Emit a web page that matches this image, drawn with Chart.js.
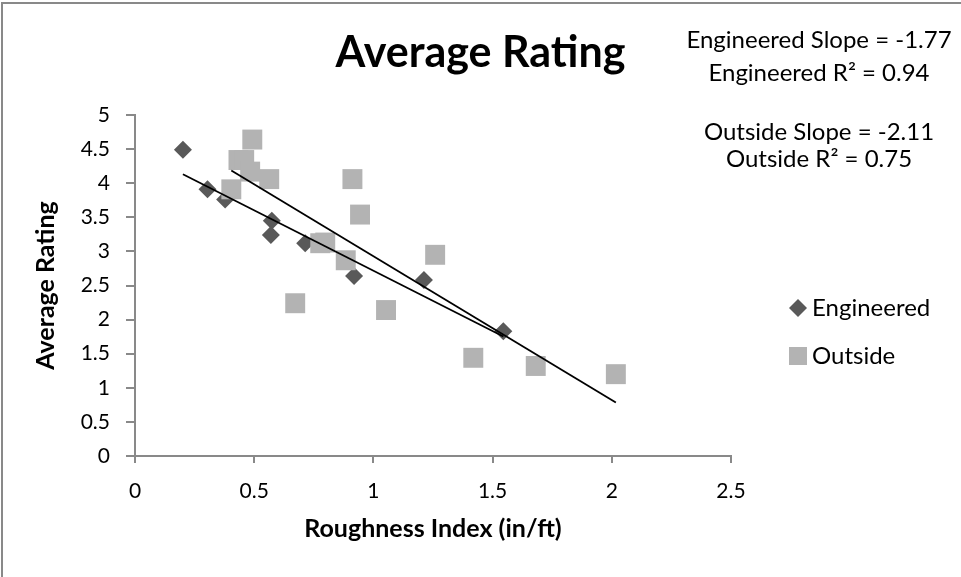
<!DOCTYPE html>
<html>
<head>
<meta charset="utf-8">
<script src="https://cdn.jsdelivr.net/npm/chart.js@4.4.1/dist/chart.umd.min.js"></script>
<style>
  html, body { margin: 0; padding: 0; background: #fff; }
  #wrap { width: 961px; height: 577px; position: relative; }
</style>
</head>
<body>
<div id="wrap"><canvas id="chart" width="961" height="577"></canvas></div>
<script>
// Data
const seriesNames = ['Engineered', 'Outside'];
const engX = [0.201, 0.304, 0.378, 0.574, 0.570, 0.714, 0.919, 1.212, 1.545];
const engY = [4.49, 3.91, 3.76, 3.45, 3.24, 3.12, 2.64, 2.58, 1.83];
const outX = [0.492, 0.434, 0.458, 0.483, 0.563, 0.404, 0.912, 0.944, 0.777, 0.798, 0.884, 1.259, 0.672, 1.053, 1.419, 1.681, 2.017];
const outY = [4.64, 4.34, 4.34, 4.17, 4.06, 3.91, 4.06, 3.54, 3.12, 3.13, 2.87, 2.95, 2.24, 2.14, 1.44, 1.32, 1.20];

// Linear trendlines (slope from the chart's notes)
const trendSlope = [-1.77, -2.11];
const trendIntercept = [4.486, 5.04];
const chartTitle = 'Average Rating';
const notes = [
    ['Engineered Slope = -1.77', 'Engineered R\u00B2 = 0.94'],
    ['Outside Slope = -2.11', 'Outside R\u00B2 = 0.75']
];

const xTicks = [0, 0.5, 1, 1.5, 2, 2.5];
const yTicks = [0, 0.5, 1, 1.5, 2, 2.5, 3, 3.5, 4, 4.5, 5];

const FONT = 'Lato, "Open Sans", sans-serif';
const axisGray = '#898989';

function toPoints(xs, ys) {
    return xs.map((x, i) => ({ x: x, y: ys[i] }));
}

function trendPoints(xs, k) {
    const lo = Math.min(...xs), hi = Math.max(...xs);
    return [lo, hi].map(x => ({ x: x, y: trendIntercept[k] + trendSlope[k] * x }));
}

// title, notes, legend and frame drawn on top
const extras = {
    id: 'extras',
    afterDraw(chart) {
        const ctx = chart.ctx;
        ctx.save();

        // frame (top and left edge only are visible)
        ctx.fillStyle = axisGray;
        ctx.fillRect(1, 2, 960, 2);
        ctx.fillRect(1, 2, 2, 575);

        // title, centred on the whole picture
        ctx.fillStyle = '#000';
        ctx.font = 'bold 43px ' + FONT;
        ctx.textAlign = 'center';
        ctx.textBaseline = 'alphabetic';
        ctx.fillText(chartTitle, 480.5, 67);

        // slope / R2 notes
        ctx.font = '24px ' + FONT;
        const baselines = [[48, 81], [140, 167]];
        notes.forEach((pair, i) => {
            pair.forEach((txt, j) => ctx.fillText(txt, 819, baselines[i][j]));
        });

        // legend
        const items = [
            { ds: chart.data.datasets[0], y: 308 },
            { ds: chart.data.datasets[1], y: 356 }
        ];
        ctx.textAlign = 'left';
        ctx.textBaseline = 'middle';
        items.forEach(it => {
            ctx.fillStyle = it.ds.backgroundColor;
            ctx.beginPath();
            if (it.ds.pointStyle === 'rectRot') {
                const r = 9;
                ctx.moveTo(798 - r, it.y); ctx.lineTo(798, it.y - r);
                ctx.lineTo(798 + r, it.y); ctx.lineTo(798, it.y + r);
                ctx.closePath();
            } else {
                ctx.rect(798 - 9, it.y - 9, 18, 18);
            }
            ctx.fill();
            ctx.fillStyle = '#000';
            ctx.fillText(it.ds.label, 812, it.y);
        });
        ctx.restore();
    }
};

new Chart(document.getElementById('chart'), {
    type: 'scatter',
    data: {
        datasets: [
            {
                label: seriesNames[0],
                data: toPoints(engX, engY),
                pointStyle: 'rectRot',
                pointRadius: 9,
                pointHoverRadius: 9,
                backgroundColor: '#595959',
                borderColor: '#595959',
                borderWidth: 0,
                order: 2
            },
            {
                label: seriesNames[1],
                data: toPoints(outX, outY),
                pointStyle: 'rect',
                pointRadius: 14.1,
                pointHoverRadius: 14.1,
                backgroundColor: '#b3b3b3',
                borderColor: '#b3b3b3',
                borderWidth: 0,
                order: 1
            },
            {
                label: 'Linear (' + seriesNames[0] + ')',
                type: 'line',
                data: trendPoints(engX, 0),
                borderColor: '#000',
                borderWidth: 1.8,
                pointRadius: 0,
                fill: false,
                order: 0
            },
            {
                label: 'Linear (' + seriesNames[1] + ')',
                type: 'line',
                data: trendPoints(outX, 1),
                borderColor: '#000',
                borderWidth: 1.8,
                pointRadius: 0,
                fill: false,
                order: 0
            }
        ]
    },
    options: {
        responsive: false,
        animation: false,
        devicePixelRatio: 1,
        layout: { padding: { left: 0, right: 230, top: 115, bottom: 0 } },
        plugins: {
            legend: { display: false },
            tooltip: { enabled: false },
            title: { display: false }
        },
        scales: {
            x: {
                type: 'linear',
                min: 0,
                max: 2.5,
                afterBuildTicks: s => { s.ticks = xTicks.map(v => ({ value: v })); },
                afterFit: s => { s.height = 121; },
                ticks: { color: '#000', font: { family: FONT, size: 21 }, padding: 16, callback: v => String(v) },
                grid: { drawOnChartArea: false, drawTicks: true, tickLength: 7, color: axisGray, lineWidth: 2 },
                border: { color: axisGray, width: 2 },
                title: {
                    display: true,
                    text: 'Roughness Index (in/ft)',
                    color: '#000',
                    font: { family: FONT, size: 25, weight: 'bold', lineHeight: 1.2 },
                    padding: { top: 0, bottom: 33 }
                }
            },
            y: {
                type: 'linear',
                min: 0,
                max: 5,
                afterBuildTicks: s => { s.ticks = yTicks.map(v => ({ value: v })); },
                afterFit: s => { s.width = 135; },
                ticks: { color: '#000', font: { family: FONT, size: 21 }, padding: 16, callback: v => String(v) },
                grid: { drawOnChartArea: false, drawTicks: true, tickLength: 9, color: axisGray, lineWidth: 2 },
                border: { color: axisGray, width: 2 },
                title: {
                    display: true,
                    text: 'Average Rating',
                    color: '#000',
                    font: { family: FONT, size: 25, weight: 'bold', lineHeight: 1.2 },
                    padding: { top: 31, bottom: 0 }
                }
            }
        }
    },
    plugins: [extras]
});
</script>
</body>
</html>
